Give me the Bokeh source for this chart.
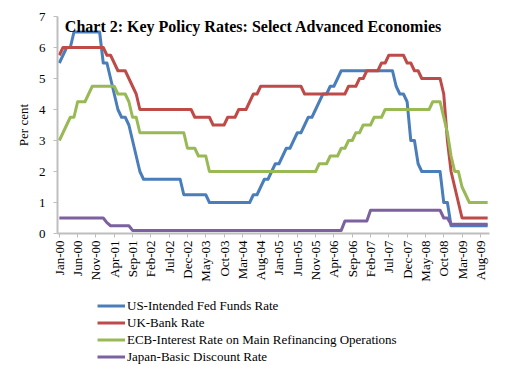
from bokeh.plotting import figure
from bokeh.layouts import column
from bokeh.models import Range1d, FixedTicker, Legend, LegendItem, Label
from bokeh.embed import file_html
from bokeh.resources import INLINE

# Monthly end-of-month policy rates, Jan-00 .. Oct-09 (per cent)
us_fed = [
    5.5, 5.75, 6.0, 6.0, 6.5, 6.5, 6.5, 6.5, 6.5, 6.5, 6.5, 6.5,            # 2000
    5.5, 5.5, 5.0, 4.5, 4.0, 3.75, 3.75, 3.5, 3.0, 2.5, 2.0, 1.75,          # 2001
    1.75, 1.75, 1.75, 1.75, 1.75, 1.75, 1.75, 1.75, 1.75, 1.75, 1.25, 1.25, # 2002
    1.25, 1.25, 1.25, 1.25, 1.25, 1.0, 1.0, 1.0, 1.0, 1.0, 1.0, 1.0,        # 2003
    1.0, 1.0, 1.0, 1.0, 1.0, 1.25, 1.25, 1.5, 1.75, 1.75, 2.0, 2.25,        # 2004
    2.25, 2.5, 2.75, 2.75, 3.0, 3.25, 3.25, 3.5, 3.75, 3.75, 4.0, 4.25,     # 2005
    4.5, 4.5, 4.75, 4.75, 5.0, 5.25, 5.25, 5.25, 5.25, 5.25, 5.25, 5.25,    # 2006
    5.25, 5.25, 5.25, 5.25, 5.25, 5.25, 5.25, 5.25, 4.75, 4.5, 4.5, 4.25,   # 2007
    3.0, 3.0, 2.25, 2.0, 2.0, 2.0, 2.0, 2.0, 2.0, 1.0, 1.0, 0.25,           # 2008
    0.25, 0.25, 0.25, 0.25, 0.25, 0.25, 0.25, 0.25, 0.25, 0.25,             # 2009
]
uk_bank = [
    5.75, 6.0, 6.0, 6.0, 6.0, 6.0, 6.0, 6.0, 6.0, 6.0, 6.0, 6.0,
    6.0, 5.75, 5.75, 5.5, 5.25, 5.25, 5.25, 5.0, 4.75, 4.5, 4.0, 4.0,
    4.0, 4.0, 4.0, 4.0, 4.0, 4.0, 4.0, 4.0, 4.0, 4.0, 4.0, 4.0,
    4.0, 3.75, 3.75, 3.75, 3.75, 3.75, 3.5, 3.5, 3.5, 3.5, 3.75, 3.75,
    3.75, 4.0, 4.0, 4.0, 4.25, 4.5, 4.5, 4.75, 4.75, 4.75, 4.75, 4.75,
    4.75, 4.75, 4.75, 4.75, 4.75, 4.75, 4.75, 4.5, 4.5, 4.5, 4.5, 4.5,
    4.5, 4.5, 4.5, 4.5, 4.5, 4.5, 4.5, 4.75, 4.75, 4.75, 5.0, 5.0,
    5.25, 5.25, 5.25, 5.25, 5.5, 5.5, 5.75, 5.75, 5.75, 5.75, 5.75, 5.5,
    5.5, 5.25, 5.25, 5.0, 5.0, 5.0, 5.0, 5.0, 5.0, 4.5, 3.0, 2.0,
    1.5, 1.0, 0.5, 0.5, 0.5, 0.5, 0.5, 0.5, 0.5, 0.5,
]
ecb_mro = [
    3.0, 3.25, 3.5, 3.75, 3.75, 4.25, 4.25, 4.25, 4.5, 4.75, 4.75, 4.75,
    4.75, 4.75, 4.75, 4.75, 4.5, 4.5, 4.5, 4.25, 3.75, 3.75, 3.25, 3.25,
    3.25, 3.25, 3.25, 3.25, 3.25, 3.25, 3.25, 3.25, 3.25, 3.25, 3.25, 2.75,
    2.75, 2.75, 2.5, 2.5, 2.5, 2.0, 2.0, 2.0, 2.0, 2.0, 2.0, 2.0,
    2.0, 2.0, 2.0, 2.0, 2.0, 2.0, 2.0, 2.0, 2.0, 2.0, 2.0, 2.0,
    2.0, 2.0, 2.0, 2.0, 2.0, 2.0, 2.0, 2.0, 2.0, 2.0, 2.0, 2.25,
    2.25, 2.25, 2.5, 2.5, 2.5, 2.75, 2.75, 3.0, 3.0, 3.25, 3.25, 3.5,
    3.5, 3.5, 3.75, 3.75, 3.75, 4.0, 4.0, 4.0, 4.0, 4.0, 4.0, 4.0,
    4.0, 4.0, 4.0, 4.0, 4.0, 4.0, 4.25, 4.25, 4.25, 3.75, 3.25, 2.5,
    2.0, 2.0, 1.5, 1.25, 1.0, 1.0, 1.0, 1.0, 1.0, 1.0,
]
japan_disc = [
    0.5, 0.5, 0.5, 0.5, 0.5, 0.5, 0.5, 0.5, 0.5, 0.5, 0.5, 0.5,
    0.5, 0.35, 0.25, 0.25, 0.25, 0.25, 0.25, 0.25, 0.1, 0.1, 0.1, 0.1,
    0.1, 0.1, 0.1, 0.1, 0.1, 0.1, 0.1, 0.1, 0.1, 0.1, 0.1, 0.1,
    0.1, 0.1, 0.1, 0.1, 0.1, 0.1, 0.1, 0.1, 0.1, 0.1, 0.1, 0.1,
    0.1, 0.1, 0.1, 0.1, 0.1, 0.1, 0.1, 0.1, 0.1, 0.1, 0.1, 0.1,
    0.1, 0.1, 0.1, 0.1, 0.1, 0.1, 0.1, 0.1, 0.1, 0.1, 0.1, 0.1,
    0.1, 0.1, 0.1, 0.1, 0.1, 0.1, 0.4, 0.4, 0.4, 0.4, 0.4, 0.4,
    0.4, 0.75, 0.75, 0.75, 0.75, 0.75, 0.75, 0.75, 0.75, 0.75, 0.75, 0.75,
    0.75, 0.75, 0.75, 0.75, 0.75, 0.75, 0.75, 0.75, 0.75, 0.5, 0.5, 0.3,
    0.3, 0.3, 0.3, 0.3, 0.3, 0.3, 0.3, 0.3, 0.3, 0.3,
]

tick_labels = [
    "Jan-00", "Jun-00", "Nov-00", "Apr-01", "Sep-01", "Feb-02", "Jul-02", "Dec-02",
    "May-03", "Oct-03", "Mar-04", "Aug-04", "Jan-05", "Jun-05", "Nov-05", "Apr-06",
    "Sep-06", "Feb-07", "Jul-07", "Dec-07", "May-08", "Oct-08", "Mar-09", "Aug-09",
]
series_names = [
    "US-Intended Fed Funds Rate",
    "UK-Bank Rate",
    "ECB-Interest Rate on Main Refinancing Operations",
    "Japan-Basic Discount Rate",
]
series_colors = ["#4A7EBB", "#BE4B48", "#98B954", "#7D60A0"]
title_text = "Chart 2: Key Policy Rates: Select Advanced Economies"

FONT = "Liberation Serif"
n = len(us_fed)
months = list(range(n))

MAIN_H = 284
p = figure(
    width=505, height=MAIN_H, output_backend="svg", toolbar_location=None,
    x_range=Range1d(-0.5, n - 0.5), y_range=Range1d(0, 7),
    min_border_left=57, min_border_right=16, min_border_top=16,
    min_border_bottom=MAIN_H - 234,
)
p.background_fill_color = "white"
p.border_fill_color = "white"
p.outline_line_color = None
p.xgrid.visible = False
p.ygrid.visible = False

for vals, col in zip([us_fed, uk_bank, ecb_mro, japan_disc], series_colors):
    p.line(months, vals, line_color=col, line_width=3, line_join="round")

axis_col = "#BEBEBE"
xa = p.xaxis[0]
tick_pos = [5 * k for k in range(len(tick_labels))]
xa.ticker = FixedTicker(ticks=tick_pos, minor_ticks=[])
xa.major_label_overrides = {t: lab for t, lab in zip(tick_pos, tick_labels)}
xa.major_label_orientation = 1.5707963
xa.axis_line_color = axis_col
xa.axis_line_width = 2
xa.major_tick_line_color = axis_col
xa.major_tick_out = 4
xa.major_tick_in = 0
xa.minor_tick_line_color = None
xa.major_label_text_font = FONT
xa.major_label_text_font_size = "13px"
xa.major_label_text_color = "black"
xa.major_label_standoff = 3

ya = p.yaxis[0]
ya.ticker = FixedTicker(ticks=[0, 1, 2, 3, 4, 5, 6, 7], minor_ticks=[])
ya.axis_line_color = axis_col
ya.axis_line_width = 2
ya.major_tick_line_color = axis_col
ya.major_tick_out = 4
ya.major_tick_in = 0
ya.minor_tick_line_color = None
ya.major_label_text_font = FONT
ya.major_label_text_font_size = "13px"
ya.major_label_text_color = "black"
ya.major_label_standoff = 8
ya.axis_label = "Per cent"
ya.axis_label_text_font = FONT
ya.axis_label_text_font_size = "13px"
ya.axis_label_text_font_style = "normal"
ya.axis_label_text_color = "black"
ya.axis_label_standoff = 5

title = Label(x=1.5, y=6.69, text=title_text, text_font=FONT,
              text_font_style="bold", text_font_size="16px",
              text_color="black", text_baseline="alphabetic")
p.add_layout(title)

# Legend strip under the chart (its frame is aligned with the chart frame)
LEG_H = 365 - MAIN_H
q = figure(
    width=505, height=LEG_H, output_backend="svg", toolbar_location=None,
    x_range=Range1d(0, 1), y_range=Range1d(0, 1),
    min_border_left=0, min_border_right=0, min_border_top=0, min_border_bottom=0,
    x_axis_type=None, y_axis_type=None,
)
q.outline_line_color = None
q.background_fill_color = "white"
q.border_fill_color = "white"
q.xgrid.visible = False
q.ygrid.visible = False
leg_renderers = []
for col in series_colors:
    # proxy renderers placed outside the visible range; they only feed the legend
    leg_renderers.append(q.line([5, 6], [5, 6], line_color=col, line_width=3))

legend = Legend(
    items=[LegendItem(label=nm, renderers=[r]) for nm, r in zip(series_names, leg_renderers)],
    location=(40, 0), orientation="vertical",
    label_text_font=FONT, label_text_font_size="13px", label_text_color="black",
    glyph_width=28, glyph_height=17, label_height=17, label_standoff=2,
    spacing=0, padding=0, margin=0,
    background_fill_alpha=0, border_line_color=None,
)
q.add_layout(legend, "center")

layout = column(p, q, spacing=0)
open("out.html", "w").write(file_html(layout, INLINE))
